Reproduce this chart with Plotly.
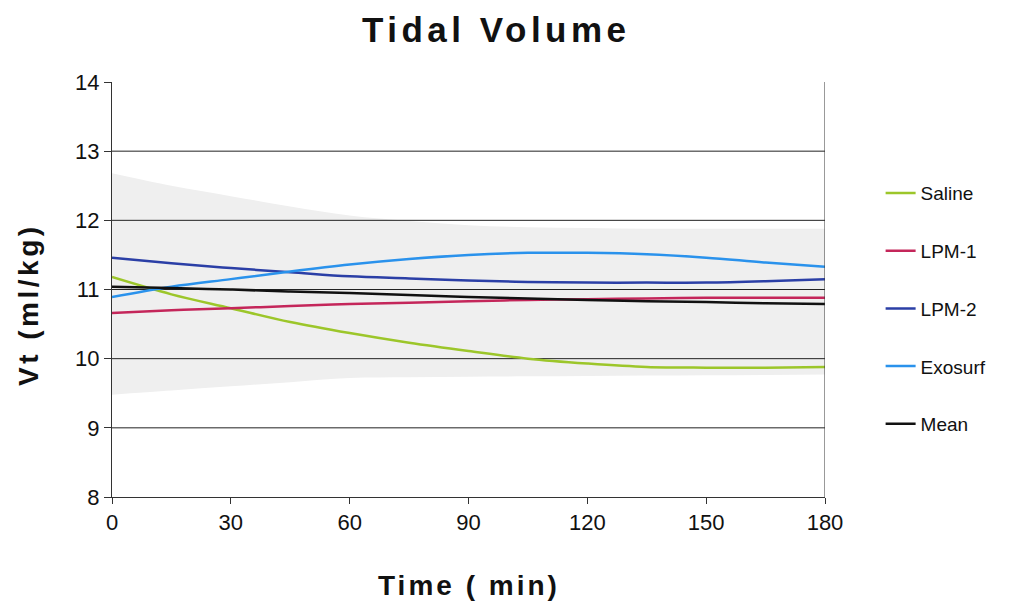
import plotly.graph_objects as go

time = [0, 15, 30, 45, 60, 75, 90, 105, 120, 135, 150, 165, 180]
band_upper = [12.68, 12.50, 12.35, 12.20, 12.07, 11.99, 11.93, 11.90, 11.89, 11.88, 11.88, 11.88, 11.88]
band_lower = [9.48, 9.54, 9.60, 9.66, 9.72, 9.73, 9.74, 9.745, 9.75, 9.755, 9.76, 9.765, 9.77]
saline = [11.18, 10.93, 10.73, 10.53, 10.37, 10.23, 10.11, 10.00, 9.93, 9.88, 9.87, 9.87, 9.88]
lpm1 = [10.66, 10.70, 10.73, 10.76, 10.79, 10.81, 10.83, 10.85, 10.86, 10.87, 10.88, 10.88, 10.88]
lpm2 = [11.46, 11.38, 11.31, 11.25, 11.19, 11.16, 11.13, 11.11, 11.10, 11.10, 11.10, 11.12, 11.15]
exosurf = [10.89, 11.04, 11.15, 11.26, 11.36, 11.44, 11.50, 11.53, 11.53, 11.51, 11.46, 11.39, 11.33]
mean = [11.04, 11.02, 11.00, 10.97, 10.95, 10.92, 10.89, 10.87, 10.85, 10.83, 10.82, 10.80, 10.79]
grid_levels = [9, 10, 11, 12, 13]
x_ticks = [0, 30, 60, 90, 120, 150, 180]
y_ticks = [8, 9, 10, 11, 12, 13, 14]

series = [
    ("Saline", saline, "#9cc62a"),
    ("LPM-1", lpm1, "#c4265a"),
    ("LPM-2", lpm2, "#2b3fa6"),
    ("Exosurf", exosurf, "#2a92ec"),
    ("Mean", mean, "#111111"),
]

fig = go.Figure()
fig.add_trace(go.Scatter(x=time, y=band_lower, mode="lines", line=dict(width=0, shape="spline"),
                         showlegend=False, hoverinfo="skip"))
fig.add_trace(go.Scatter(x=time, y=band_upper, mode="lines", line=dict(width=0, shape="spline"),
                         fill="tonexty", fillcolor="#efefef", showlegend=False, hoverinfo="skip"))
# gridlines drawn above the band, below the series
for g in grid_levels:
    fig.add_trace(go.Scatter(x=[x_ticks[0], x_ticks[-1]], y=[g, g], mode="lines",
                             line=dict(color="#222222", width=1), showlegend=False, hoverinfo="skip"))

for name, vals, col in series:
    fig.add_trace(go.Scatter(x=time, y=vals, mode="lines", name=name, legendgroup=name,
                             line=dict(color=col, width=2.5, shape="spline")))

def spaced(t, px):
    return f'<span style="letter-spacing:{px}px">{t}</span>'

fig.update_layout(
    width=1012, height=607,
    margin=dict(l=112, r=187, t=82, b=110),
    paper_bgcolor="white", plot_bgcolor="white",
    font=dict(family="Arial, Liberation Sans, sans-serif", color="#111111"),
    showlegend=True,
    legend=dict(x=1.078, y=0.778, xanchor="left", yanchor="top", tracegroupgap=30,
                font=dict(size=19, color="#111111"), bgcolor="rgba(0,0,0,0)"),
    xaxis=dict(range=[0, 180], tickvals=x_ticks, showgrid=False,
               showline=True, linecolor="#333333", linewidth=1, mirror=False,
               ticks="outside", ticklen=6, tickcolor="#333333",
               tickfont=dict(size=22), zeroline=False),
    yaxis=dict(range=[8, 14], tickvals=y_ticks, showgrid=False,
               showline=True, linecolor="#333333", linewidth=1,
               ticks="outside", ticklen=7, tickcolor="#333333",
               tickfont=dict(size=22), zeroline=False),
    annotations=[
        dict(text="<b>" + spaced("Tidal Volume", 4.5) + "</b>", xref="paper", yref="paper",
             x=(496 - 112) / 713, y=1 + (82 - 30) / 415, xanchor="center", yanchor="middle",
             showarrow=False, font=dict(size=35, color="#111111")),
        dict(text="<b>" + spaced("Time ( min)", 3) + "</b>", xref="paper", yref="paper",
             x=0.5, y=-(585 - 497) / 415, xanchor="center", yanchor="middle",
             showarrow=False, font=dict(size=28, color="#111111")),
        dict(text="<b>" + spaced("Vt (ml/kg)", 3.5) + "</b>", xref="paper", yref="paper",
             x=-(112 - 28) / 713, y=(497 - 305) / 415, xanchor="center", yanchor="middle",
             textangle=-90, showarrow=False, font=dict(size=28, color="#111111")),
    ],
)
# right border line of plot area
fig.add_shape(type="line", xref="x", yref="paper", x0=180, x1=180, y0=0, y1=1,
              line=dict(color="#333333", width=1))

fig.write_html("out.html")
